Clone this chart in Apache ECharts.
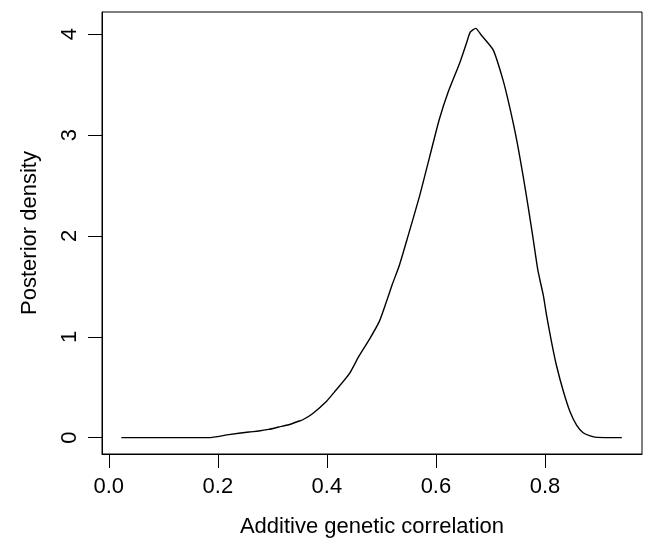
<!DOCTYPE html>
<html>
<head>
<meta charset="utf-8">
<script src="https://cdn.jsdelivr.net/npm/echarts@6/dist/echarts.min.js"></script>
<style>
  html, body { margin: 0; padding: 0; background: #fff; }
  #chart { width: 648px; height: 543px; }
</style>
</head>
<body>
<div id="chart"></div>
<script>
// posterior density of the additive genetic correlation
var corr = [0.023, 0.183, 0.220, 0.257, 0.275, 0.293, 0.312, 0.330, 0.349, 0.355,
            0.373, 0.398, 0.416, 0.441, 0.459, 0.478, 0.496, 0.508, 0.520, 0.533,
            0.548, 0.570, 0.588, 0.606, 0.622, 0.644, 0.656, 0.663, 0.673, 0.683,
            0.705, 0.723, 0.735, 0.748, 0.760, 0.769, 0.778, 0.787, 0.797, 0.803,
            0.812, 0.821, 0.834, 0.846, 0.858, 0.870, 0.883, 0.895, 0.941];
var density = [0, 0, 0.03, 0.056, 0.066, 0.082, 0.106, 0.128, 0.165, 0.175,
               0.235, 0.353, 0.467, 0.632, 0.81, 0.975, 1.15, 1.33, 1.52, 1.71,
               1.983, 2.395, 2.774, 3.152, 3.42, 3.72, 3.91, 4.02, 4.058, 3.992,
               3.844, 3.547, 3.284, 2.955, 2.592, 2.295, 1.983, 1.66, 1.41, 1.212,
               0.95, 0.718, 0.455, 0.257, 0.125, 0.049, 0.017, 0.003, 0];
var xTicks = [0, 0.2, 0.4, 0.6, 0.8];
var yTicks = [0, 1, 2, 3, 4];

var font = '"Liberation Sans", Arial, Helvetica, sans-serif';
var ink = "#000";

var chart = echarts.init(document.getElementById("chart"), null, { renderer: "canvas" });

var pts = corr.map(function (x, i) { return [x, density[i]]; });

chart.setOption({
  animation: false,
  backgroundColor: "#fff",
  textStyle: { fontFamily: font, color: ink },
  grid: {
    left: 102, right: 6, top: 12, bottom: 87,
    show: true, borderColor: ink, borderWidth: 1, backgroundColor: "transparent"
  },
  xAxis: {
    type: "value",
    min: -0.0125, max: 0.978,
    name: "Additive genetic correlation",
    nameLocation: "middle", nameGap: 62,
    nameTextStyle: { fontSize: 22, color: ink, fontFamily: font },
    axisLine: { show: true, onZero: false, lineStyle: { color: ink, width: 1 } },
    axisTick: { show: true, length: 14, customValues: xTicks, lineStyle: { color: ink, width: 1 } },
    axisLabel: {
      customValues: xTicks, margin: 22, fontSize: 22, color: ink, fontFamily: font,
      formatter: function (v) { return v.toFixed(1); }
    },
    splitLine: { show: false }
  },
  yAxis: {
    type: "value",
    min: -0.162, max: 4.22,
    name: "Posterior density",
    nameLocation: "middle", nameGap: 61, nameRotate: 90,
    nameTextStyle: { fontSize: 22, color: ink, fontFamily: font },
    axisLine: { show: true, onZero: false, lineStyle: { color: ink, width: 1 } },
    axisTick: { show: true, length: 14, customValues: yTicks, lineStyle: { color: ink, width: 1 } },
    axisLabel: {
      customValues: yTicks, margin: 21, rotate: 90, fontSize: 22, color: ink, fontFamily: font,
      formatter: function (v) { return String(Math.round(v)); }
    },
    splitLine: { show: false }
  },
  series: [{
    type: "line",
    data: pts,
    showSymbol: false,
    symbol: "none",
    smooth: 0.2,
    lineStyle: { color: ink, width: 1.4 }
  }]
});
</script>
</body>
</html>
